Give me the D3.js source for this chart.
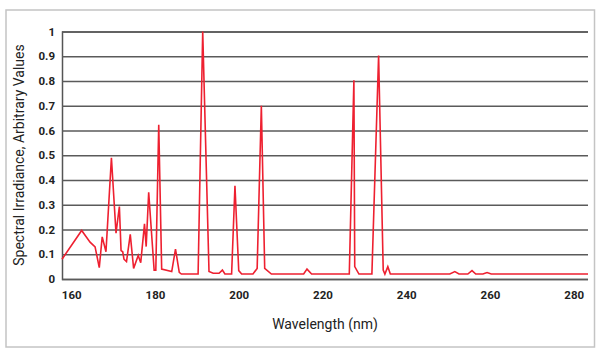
<!DOCTYPE html>
<html><head><meta charset="utf-8">
<script src="https://d3js.org/d3.v7.min.js"></script>
<style>html,body{margin:0;padding:0;background:#fff;}</style>
</head><body>
<script>
const wavelengths = [157.8,162.5,164.5,165.7,166.7,167.4,168.3,169.6,170.7,171.5,171.9,172.3,172.6,173.2,174.1,174.9,176.0,176.6,177.5,177.9,178.5,179.8,180.2,180.9,181.6,184.0,184.9,185.8,186.3,190.3,191.4,192.9,193.9,195.3,196.1,196.7,198.3,199.1,200.0,200.7,203.4,204.4,205.4,206.2,207.8,215.5,216.3,217.4,226.4,227.5,227.7,228.7,231.8,233.4,234.5,234.9,235.6,236.2,250.4,251.6,252.6,254.7,255.7,256.6,258.3,259.3,260.3,283.4];
const irradiance = [0.08,0.196,0.149,0.13,0.046,0.17,0.11,0.49,0.185,0.293,0.115,0.11,0.08,0.07,0.18,0.043,0.095,0.066,0.223,0.131,0.35,0.036,0.036,0.623,0.04,0.03,0.121,0.027,0.02,0.02,1.0,0.03,0.023,0.023,0.036,0.02,0.02,0.377,0.034,0.02,0.02,0.043,0.70,0.043,0.02,0.02,0.04,0.02,0.02,0.803,0.05,0.02,0.02,0.903,0.036,0.02,0.05,0.02,0.02,0.03,0.02,0.02,0.034,0.02,0.02,0.026,0.02,0.02];
const xTicks = [160,180,200,220,240,260,280];
const yTicks = [0,0.1,0.2,0.3,0.4,0.5,0.6,0.7,0.8,0.9,1];
const xTitle = "Wavelength (nm)";
const yTitle = "Spectral Irradiance, Arbitrary Values";

const W = 602, H = 356;
const svg = d3.select("body").append("svg").attr("width", W).attr("height", H);
svg.append("rect").attr("x",6).attr("y",10).attr("width",588.5).attr("height",337)
  .attr("fill","#fff").attr("stroke","#c4c4c4").attr("stroke-width",1.5);

const L = 62, R = 588, T = 31.5, B = 279;
const x = d3.scaleLinear().domain([157.8, 283.4]).range([L, R]);
const y = d3.scaleLinear().domain([0, 1]).range([B, T]);

const font = "Roboto, 'DejaVu Sans', sans-serif";

// gridlines
const yAxis = d3.axisLeft(y).tickValues(yTicks).tickSize(-(R - L)).tickPadding(7)
  .tickFormat(d => d === 0 ? "0" : d === 1 ? "1" : d3.format(".1f")(d));
const gy = svg.append("g").attr("transform", `translate(${L},0)`).call(yAxis);
gy.select(".domain").attr("stroke","#555").attr("stroke-width",1.5);
gy.selectAll(".tick line").attr("stroke","#5a5a5a").attr("stroke-width",1.5);
gy.selectAll(".tick text").attr("font-family",font).attr("font-weight","bold")
  .attr("font-size","11.5px").attr("fill","#222");

const xAxis = d3.axisBottom(x).tickValues(xTicks).tickSize(0).tickPadding(12).tickFormat(d3.format("d"));
const gx = svg.append("g").attr("transform", `translate(0,${B})`).call(xAxis);
gx.select(".domain").remove();
gx.selectAll(".tick text").attr("font-family",font).attr("font-weight","bold")
  .attr("font-size","11.5px").attr("fill","#222");

const line = d3.line().x((d,i) => x(wavelengths[i])).y(d => y(d));
svg.append("path").datum(irradiance).attr("d", line)
  .attr("fill","none").attr("stroke","#ee2030").attr("stroke-width",1.6)
  .attr("stroke-linejoin","miter");

svg.append("text").attr("x", 325).attr("y", 329).attr("text-anchor","middle")
  .attr("font-family",font).attr("font-size","14px").attr("fill","#222").text(xTitle);
svg.append("text").attr("transform","translate(24,155) rotate(-90)").attr("text-anchor","middle")
  .attr("font-family",font).attr("font-size","14px").attr("fill","#222").text(yTitle);
</script>
</body></html>
